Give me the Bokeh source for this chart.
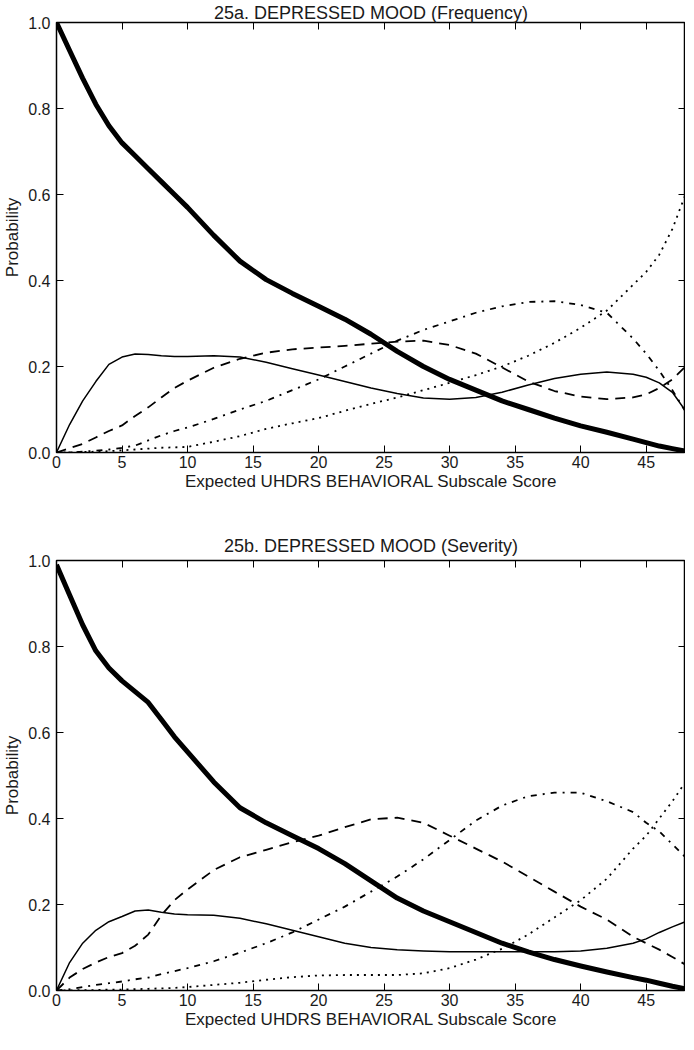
from bokeh.plotting import figure
from bokeh.models import LinearAxis, FixedTicker, Range1d, NumeralTickFormatter
from bokeh.layouts import column
from bokeh.embed import file_html
from bokeh.resources import INLINE

# ---------------- data ----------------
X = [0, 1, 2, 3, 4, 5, 6, 7, 8, 9, 10, 12, 14, 16, 18, 20, 22, 24, 26, 28, 30,
     32, 34, 36, 38, 40, 42, 44, 45, 46, 47, 48]

# 25a. Frequency
freq_cat0 = [1.0, .935, .87, .81, .76, .72, .69, .66, .63, .60, .57, .505, .445, .402, .37, .34,
             .31, .275, .235, .20, .17, .145, .12, .10, .08, .062, .047, .031, .023, .015, .009, .003]
freq_cat1 = [0, .065, .12, .165, .205, .222, .229, .228, .225, .223, .223, .225, .222, .21, .195, .18,
             .165, .15, .137, .127, .124, .128, .14, .157, .172, .182, .187, .182, .175, .162, .14, .097]
freq_cat2 = [0, .01, .02, .035, .05, .063, .085, .105, .128, .15, .167, .197, .218, .232, .24, .244,
             .248, .253, .258, .26, .25, .23, .198, .165, .143, .13, .124, .128, .135, .15, .17, .2]
freq_cat3 = [0, 0, .002, .004, .007, .011, .016, .028, .04, .05, .058, .078, .10, .12, .145, .17,
             .20, .23, .26, .285, .305, .325, .34, .35, .352, .343, .325, .265, .23, .19, .145, .095]
freq_cat4 = [0, 0, .001, .002, .003, .005, .007, .009, .011, .012, .013, .025, .038, .055, .068, .08,
             .097, .113, .128, .145, .162, .18, .20, .225, .255, .29, .33, .39, .42, .46, .52, .60]

# 25b. Severity
sev_cat0 = [.99, .92, .85, .79, .75, .72, .695, .67, .63, .59, .555, .485, .425, .39, .36, .33,
            .295, .255, .215, .185, .16, .135, .11, .09, .072, .057, .043, .03, .024, .017, .01, .004]
sev_cat1 = [0, .065, .11, .14, .16, .172, .185, .187, .182, .178, .176, .175, .168, .155, .14, .125,
            .11, .10, .095, .092, .09, .09, .09, .09, .09, .092, .098, .11, .12, .135, .148, .16]
sev_cat2 = [0, .03, .05, .065, .078, .087, .104, .13, .175, .21, .235, .28, .31, .327, .345, .36,
            .38, .398, .402, .39, .36, .33, .30, .265, .23, .195, .165, .125, .11, .095, .078, .06]
sev_cat3 = [0, .003, .008, .013, .017, .021, .026, .03, .038, .045, .052, .068, .088, .11, .135, .165,
            .195, .23, .265, .305, .35, .395, .43, .452, .46, .46, .44, .415, .39, .37, .34, .31]
sev_cat4 = [0, 0, .001, .001, .002, .002, .003, .004, .005, .006, .008, .013, .018, .025, .031, .035,
            .036, .036, .036, .04, .052, .072, .097, .13, .17, .21, .26, .33, .36, .40, .44, .485]

X_TICKS = [0, 5, 10, 15, 20, 25, 30, 35, 40, 45]
Y_TICKS = [0.0, 0.2, 0.4, 0.6, 0.8, 1.0]
TITLES = ["25a. DEPRESSED MOOD (Frequency)", "25b. DEPRESSED MOOD (Severity)"]
X_LABEL = "Expected UHDRS BEHAVIORAL Subscale Score"
Y_LABEL = "Probability"

FONT = "Liberation Sans"
TXT = "#1a1a1a"

STYLES = [
    dict(line_width=5, line_dash="solid"),
    dict(line_width=1.5, line_dash="solid"),
    dict(line_width=1.8, line_dash="10 7"),
    dict(line_width=1.8, line_dash="6 6 2 6"),
    dict(line_width=1.8, line_dash="2 5"),
]


def make(title, series, top, bottom, title_standoff):
    p = figure(frame_width=629, frame_height=430, x_range=Range1d(0, 48), y_range=Range1d(0, 1),
               output_backend="svg", toolbar_location=None,
               min_border_left=53, min_border_right=0,
               min_border_top=top, min_border_bottom=bottom)
    p.title.text = title
    p.title.text_font = FONT
    p.title.text_font_size = "18px"
    p.title.text_font_style = "normal"
    p.title.text_color = TXT
    p.title.align = "center"
    p.title.standoff = title_standoff
    p.title.offset = 0
    p.grid.visible = False
    p.outline_line_color = "black"
    p.outline_line_width = 1.5
    p.outline_line_alpha = 1.0
    p.background_fill_color = "white"
    p.border_fill_color = "white"

    for ax in p.xaxis:
        ax.ticker = FixedTicker(ticks=X_TICKS)
        ax.axis_label = X_LABEL
        ax.major_label_standoff = 3
        ax.axis_label_standoff = 1
    for ax in p.yaxis:
        ax.ticker = FixedTicker(ticks=Y_TICKS)
        ax.formatter = NumeralTickFormatter(format="0.0")
        ax.axis_label = Y_LABEL
        ax.major_label_standoff = 6
        ax.axis_label_standoff = 3
    for ax in p.xaxis + p.yaxis:
        ax.axis_line_color = None
        ax.major_tick_in = 7
        ax.major_tick_out = 0
        ax.minor_tick_in = 0
        ax.minor_tick_out = 0
        ax.major_tick_line_color = "black"
        ax.major_tick_line_width = 1
        ax.major_label_text_font = FONT
        ax.major_label_text_font_size = "16px"
        ax.major_label_text_color = TXT
        ax.axis_label_text_font = FONT
        ax.axis_label_text_font_size = "17px"
        ax.axis_label_text_font_style = "normal"
        ax.axis_label_text_color = TXT

    # tick marks only (no labels) on the top and right edges
    for place, ticks in (("above", X_TICKS), ("right", Y_TICKS)):
        ax = LinearAxis(ticker=FixedTicker(ticks=ticks), axis_line_color=None,
                        major_tick_in=7, major_tick_out=0, minor_tick_in=0, minor_tick_out=0,
                        major_tick_line_color="black",
                        major_label_text_font_size="1px", major_label_text_color=None,
                        major_label_standoff=0)
        p.add_layout(ax, place)

    for ys, st in zip(series, STYLES):
        p.line(X, ys, line_color="black", line_join="round", **st)
    return p


p1 = make(TITLES[0], [freq_cat0, freq_cat1, freq_cat2, freq_cat3, freq_cat4],
          top=22, bottom=68, title_standoff=0)
p2 = make(TITLES[1], [sev_cat0, sev_cat1, sev_cat2, sev_cat3, sev_cat4],
          top=40, bottom=42, title_standoff=9)

layout = column(p1, p2, spacing=0)
open("out.html", "w").write(file_html(layout, INLINE))
